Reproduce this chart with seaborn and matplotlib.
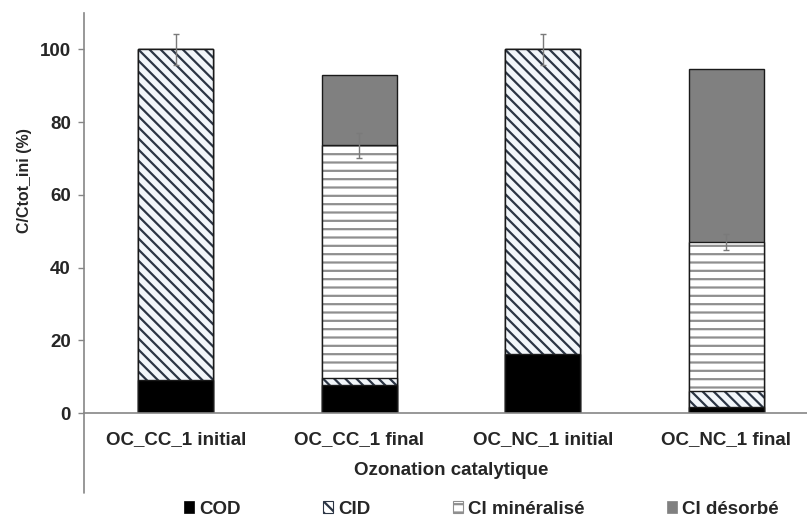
import numpy as np
import pandas as pd
import matplotlib
matplotlib.use("Agg")
import matplotlib.pyplot as plt
import seaborn as sns
from matplotlib.patches import Patch

# ---------------- data ----------------
categories = ["OC_CC_1 initial", "OC_CC_1 final", "OC_NC_1 initial", "OC_NC_1 final"]
series_names = ["COD", "CID", "CI minéralisé", "CI désorbé"]
cod = [9.0, 7.7, 16.2, 1.7]
cid = [91.0, 1.9, 83.8, 4.3]
ci_min = [0.0, 64.0, 0.0, 41.0]
ci_des = [0.0, 19.4, 0.0, 47.5]
err = [4.3, 3.4, 4.2, 2.3]
yticks = [0, 20, 40, 60, 80, 100]
xlabel = "Ozonation catalytique"
ylabel = "C/Ctot_ini (%)"

# ---------------- style ----------------
sns.set_theme(style="white")
plt.rcParams['font.family'] = ['Liberation Sans', 'DejaVu Sans']
plt.rcParams['font.weight'] = 'bold'
plt.rcParams['hatch.linewidth'] = 1.6

GRAY_AX = '#868686'
EDGE = '#1a1a1a'
CID_HATCH = '#2b3544'
MIN_HATCH = '#8f8f8f'
DES = '#808080'

fig = plt.figure(figsize=(8.07, 5.19), dpi=100)
ax = fig.add_axes([84 / 807, 106 / 519, 734 / 807, 400 / 519])

df = pd.DataFrame({"cat": categories, "COD": cod, "CID": cid,
                   "MIN": ci_min, "DES": ci_des})
df["c1"] = df["COD"]
df["c2"] = df["c1"] + df["CID"]
df["c3"] = df["c2"] + df["MIN"]
df["c4"] = df["c3"] + df["DES"]

W = 0.41
common = dict(data=df, x="cat", order=categories, width=W, errorbar=None,
              saturation=1, ax=ax)

# top layer: CI désorbé
sns.barplot(y="c4", color=DES, edgecolor=EDGE, linewidth=1.0, **common)
# CI minéralisé
sns.barplot(y="c3", color='white', edgecolor=MIN_HATCH, hatch='--', linewidth=0, **common)
sns.barplot(y="c3", fill=False, edgecolor=EDGE, linewidth=1.0, **common)
# CID
sns.barplot(y="c2", color='#f2f6fa', edgecolor=CID_HATCH, hatch='\\\\\\', linewidth=0, **common)
sns.barplot(y="c2", fill=False, edgecolor=EDGE, linewidth=1.0, **common)
# COD
sns.barplot(y="c1", color='black', edgecolor=EDGE, linewidth=1.0, **common)

# error bars at top of mineralised part
ax.errorbar(x=np.arange(len(categories)), y=df["c3"].values, yerr=err, fmt='none',
            ecolor='#7a7a7a', elinewidth=1.0, capsize=2.5, capthick=1.0, zorder=10)

# ---------------- axes ----------------
ax.set_ylim(0, 110)
ax.set_xlim(-0.5, 3.5)
ax.set_yticks(yticks)
ax.set_yticklabels([str(v) for v in yticks], fontsize=13.5, fontweight='bold')

ax.set_xticks([0.5, 1.5, 2.5])
ax.set_xticklabels([])
ax.set_xticks(range(len(categories)), minor=True)
ax.set_xticklabels(categories, minor=True, fontsize=13.5, fontweight='bold')
ax.tick_params(axis='x', which='major', length=24, width=1, color=GRAY_AX, direction='out')
ax.tick_params(axis='x', which='minor', length=0, pad=13)
ax.tick_params(axis='y', which='major', length=4.5, width=1, color=GRAY_AX,
               direction='out', pad=5, left=True)

for s in ['top', 'right']:
    ax.spines[s].set_visible(False)
for s in ['left', 'bottom']:
    ax.spines[s].set_color(GRAY_AX)
    ax.spines[s].set_linewidth(1.2)

# outer group separator (left) extended downwards
ax.plot([0, 0], [0, -80 / 400], transform=ax.transAxes, clip_on=False,
        color=GRAY_AX, lw=1.2)

ax.set_xlabel(xlabel, fontsize=13.5, fontweight='bold', labelpad=8)
ax.set_ylabel(ylabel, fontsize=11.5, fontweight='bold')
ax.yaxis.set_label_coords(-0.071, 0.58)

# ---------------- legend ----------------
handles = [
    Patch(facecolor='black', edgecolor='black', linewidth=0.5),
    Patch(facecolor='white', edgecolor=CID_HATCH, hatch='\\\\\\', linewidth=0.8),
    Patch(facecolor='white', edgecolor=MIN_HATCH, hatch='--', linewidth=0.8),
    Patch(facecolor=DES, edgecolor=DES, linewidth=0.5),
]
leg = fig.legend(handles, series_names, loc='center', bbox_to_anchor=(481 / 807, 1 - 509 / 519),
                 ncol=4, frameon=False, prop={'size': 13.5, 'weight': 'bold'},
                 handlelength=0.55, handleheight=0.55, handletextpad=0.25,
                 columnspacing=4.4, borderpad=0.1)

fig.savefig("out.png", dpi=100)
